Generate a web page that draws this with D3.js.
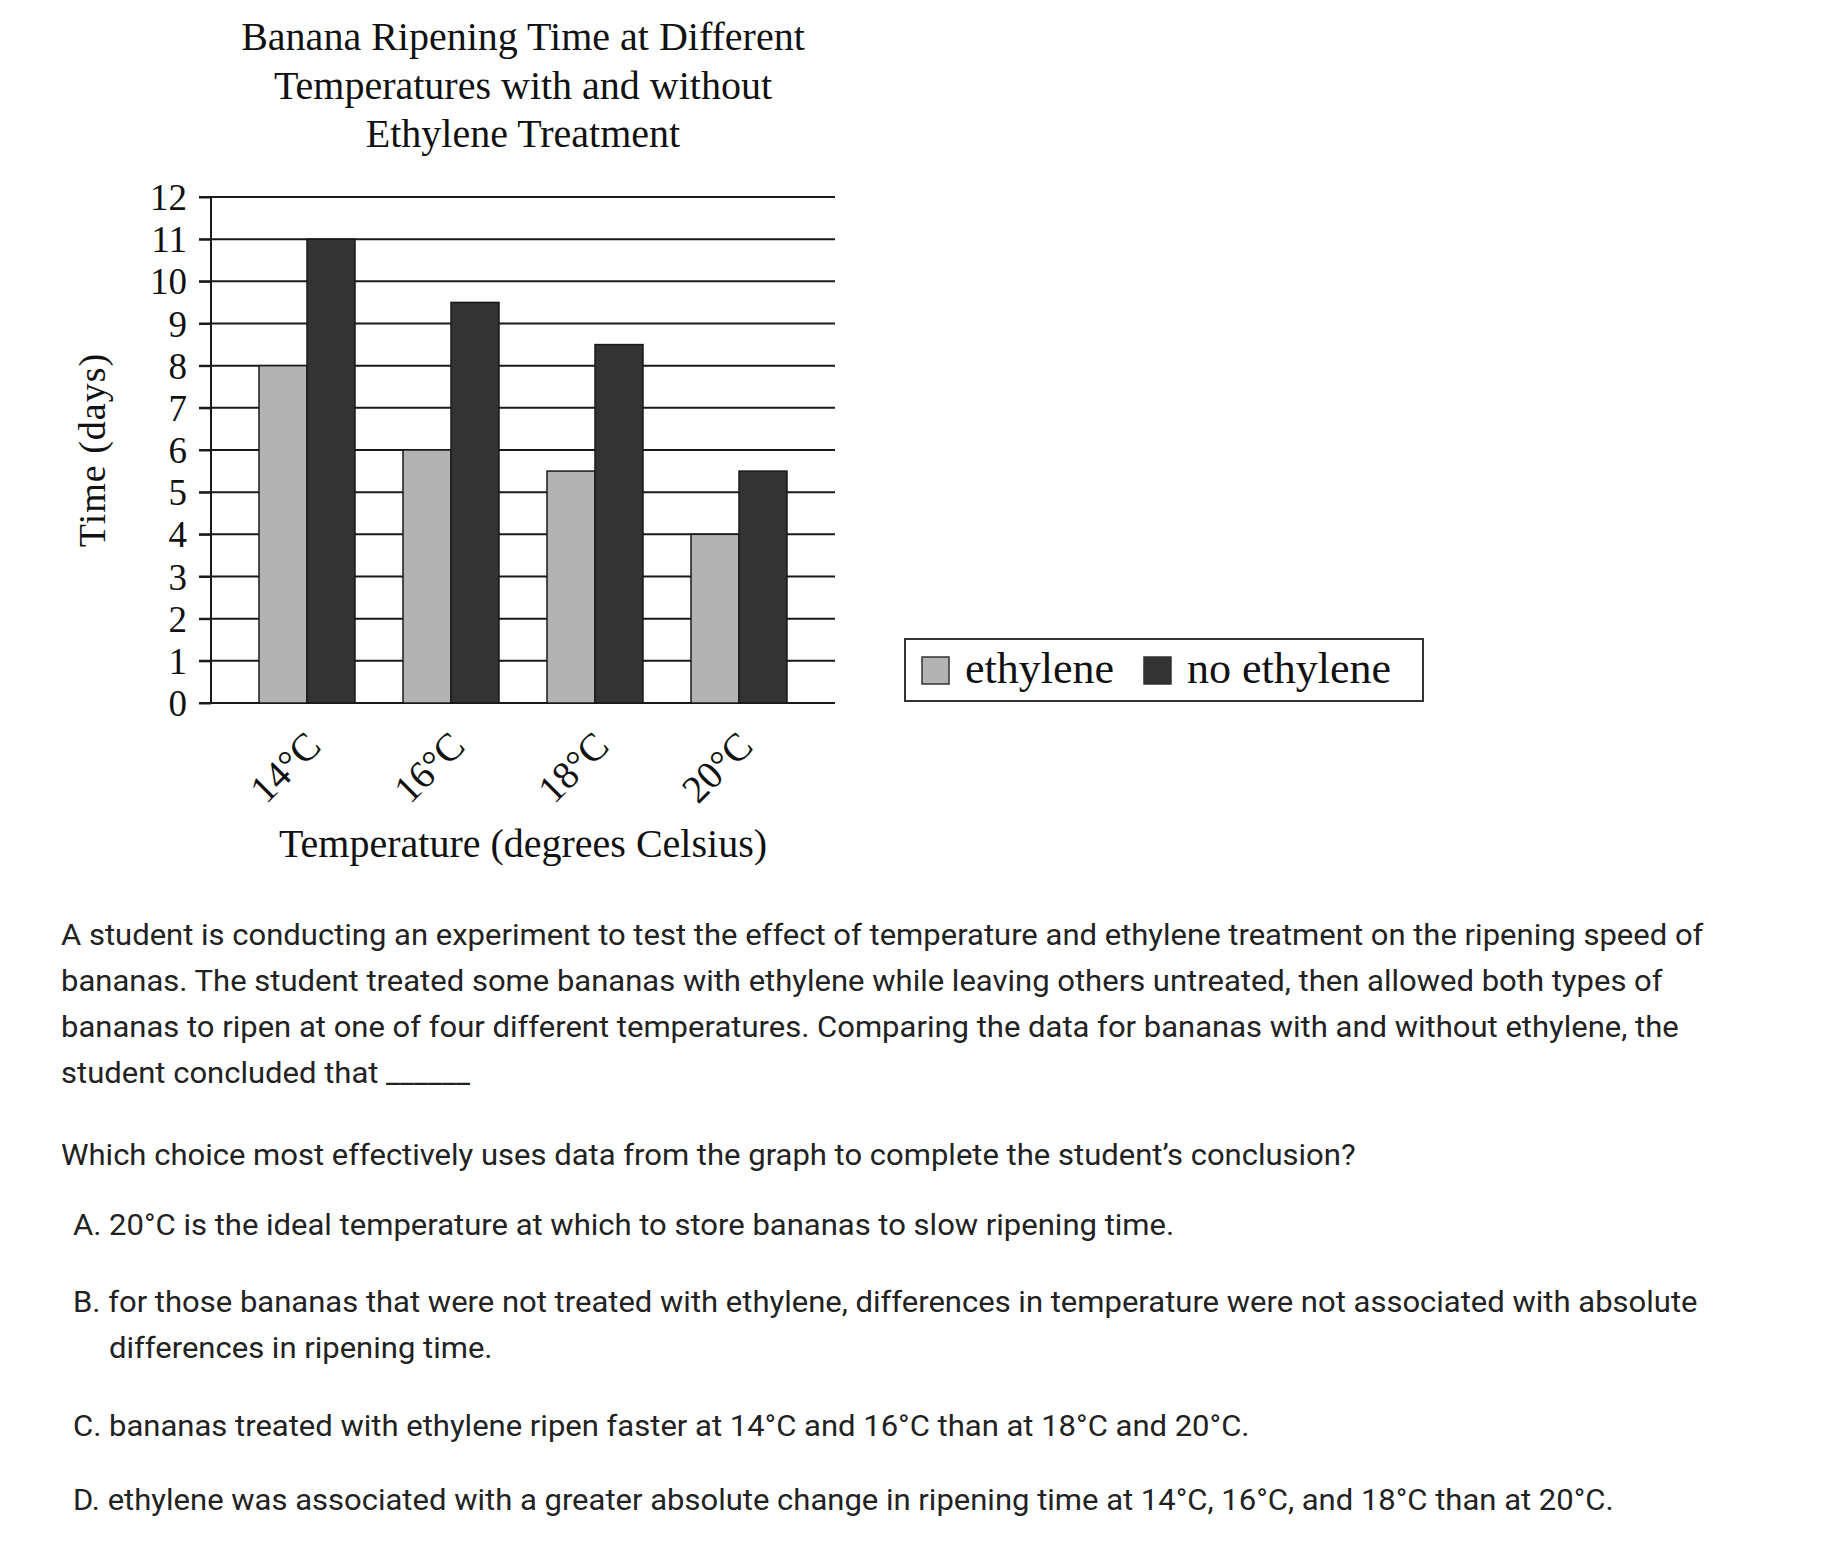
<!DOCTYPE html>
<html><head><meta charset="utf-8">
<script src="https://cdn.jsdelivr.net/npm/d3@7"></script>
<style>body{margin:0;background:#fff}svg{display:block}</style>
</head><body><svg id="c" width="1836" height="1560"></svg>
<script>
const categories = ["14°C", "16°C", "18°C", "20°C"];
const seriesNames = ["ethylene", "no ethylene"];
const ethylene = [8, 6, 5.5, 4];
const noEthylene = [11, 9.5, 8.5, 5.5];
const yTicks = [0, 1, 2, 3, 4, 5, 6, 7, 8, 9, 10, 11, 12];
const titleLines = ["Banana Ripening Time at Different", "Temperatures with and without", "Ethylene Treatment"];
const xTitle = "Temperature (degrees Celsius)";
const yTitle = "Time (days)";
const paragraph = [
  "A student is conducting an experiment to test the effect of temperature and ethylene treatment on the ripening speed of",
  "bananas. The student treated some bananas with ethylene while leaving others untreated, then allowed both types of",
  "bananas to ripen at one of four different temperatures. Comparing the data for bananas with and without ethylene, the",
  "student concluded that ______"
];
const question = "Which choice most effectively uses data from the graph to complete the student’s conclusion?";
const choices = [
  ["A. 20°C is the ideal temperature at which to store bananas to slow ripening time."],
  ["B. for those bananas that were not treated with ethylene, differences in temperature were not associated with absolute", "differences in ripening time."],
  ["C. bananas treated with ethylene ripen faster at 14°C and 16°C than at 18°C and 20°C."],
  ["D. ethylene was associated with a greater absolute change in ripening time at 14°C, 16°C, and 18°C than at 20°C."]
];

const colors = {"ethylene": "#b3b3b3", "no ethylene": "#333333"};
const serif = "'Liberation Serif','Times New Roman',serif";
const sans = "Roboto, Arial, sans-serif";

const svg = d3.select("#c");
const L = 211, R = 835, T = 197, B = 703;

const x = d3.scaleBand().domain(categories).range([L, R]).paddingInner(1/3).paddingOuter(1/3);
const xs = d3.scaleBand().domain(seriesNames).range([0, x.bandwidth()]);
const y = d3.scaleLinear().domain([0, 12]).range([B, T]);

// gridlines
svg.append("g").selectAll("line").data(yTicks).join("line")
  .attr("x1", L - 12).attr("x2", R)
  .attr("y1", d => y(d)).attr("y2", d => y(d))
  .attr("stroke", "#1a1a1a").attr("stroke-width", 2);

// y axis
const yAxis = svg.append("g").attr("transform", `translate(${L},0)`)
  .call(d3.axisLeft(y).tickValues(yTicks).tickSize(12).tickPadding(12));
yAxis.select(".domain").attr("stroke", "#1a1a1a").attr("stroke-width", 2).attr("d", `M0,${T}V${B}`);
yAxis.selectAll(".tick line").attr("stroke", "#1a1a1a").attr("stroke-width", 2);
yAxis.selectAll(".tick text").attr("font-family", serif).attr("font-size", 37).attr("fill", "#111").attr("dy", "0.34em");

// bars
const rows = categories.map((c, i) => ({cat: c, vals: [
  {s: "ethylene", v: ethylene[i]}, {s: "no ethylene", v: noEthylene[i]}]}));
svg.append("g").selectAll("g").data(rows).join("g")
  .attr("transform", d => `translate(${x(d.cat)},0)`)
  .selectAll("rect").data(d => d.vals).join("rect")
  .attr("x", d => xs(d.s)).attr("width", xs.bandwidth())
  .attr("y", d => y(d.v)).attr("height", d => y(0) - y(d.v))
  .attr("fill", d => colors[d.s]).attr("stroke", "#1a1a1a").attr("stroke-width", 1.5);

// x labels
svg.append("g").selectAll("text").data(categories).join("text")
  .attr("transform", d => `translate(${x(d) + x.bandwidth() / 2 + 16},${B + 45}) rotate(-45)`)
  .attr("text-anchor", "end").attr("font-family", serif).attr("font-size", 39).attr("fill", "#111")
  .text(d => d);

// titles
svg.append("g").selectAll("text").data(titleLines).join("text")
  .attr("x", 523).attr("y", (d, i) => 50 + i * 48.5)
  .attr("text-anchor", "middle").attr("font-family", serif).attr("font-size", 40).attr("fill", "#111")
  .text(d => d);
svg.append("text").attr("x", 523).attr("y", 857).attr("text-anchor", "middle")
  .attr("font-family", serif).attr("font-size", 40).attr("fill", "#111").text(xTitle);
svg.append("text").attr("transform", "translate(105,450) rotate(-90)").attr("text-anchor", "middle")
  .attr("font-family", serif).attr("font-size", 38).attr("letter-spacing", 1).attr("fill", "#111").text(yTitle);

// legend
const lg = svg.append("g");
lg.append("rect").attr("x", 905).attr("y", 639).attr("width", 518).attr("height", 62)
  .attr("fill", "#fff").attr("stroke", "#333").attr("stroke-width", 2);
const legX = [922, 1144];
seriesNames.forEach((s, i) => {
  lg.append("rect").attr("x", legX[i]).attr("y", 657).attr("width", 27).attr("height", 27)
    .attr("fill", colors[s]).attr("stroke", "#333").attr("stroke-width", 1.5);
  lg.append("text").attr("x", legX[i] + 43).attr("y", 683)
    .attr("font-family", serif).attr("font-size", 44).attr("fill", "#111").text(s);
});

// paragraph text
const sx = 1.07;
const txt = svg.append("g").attr("font-family", sans).attr("font-size", 29).attr("fill", "#222");
function put(str, px, py) {
  txt.append("text").attr("transform", `translate(${px},${py}) scale(${sx},1)`).text(str);
}
paragraph.forEach((line, i) => put(line, 61, 945 + i * 46));
put(question, 61, 1165);
const choiceY = [1235, 1312, 1436, 1510];
choices.forEach((lines, i) => {
  lines.forEach((line, j) => put(line, j === 0 ? 73 : 109, choiceY[i] + j * 46));
});
</script></body></html>
